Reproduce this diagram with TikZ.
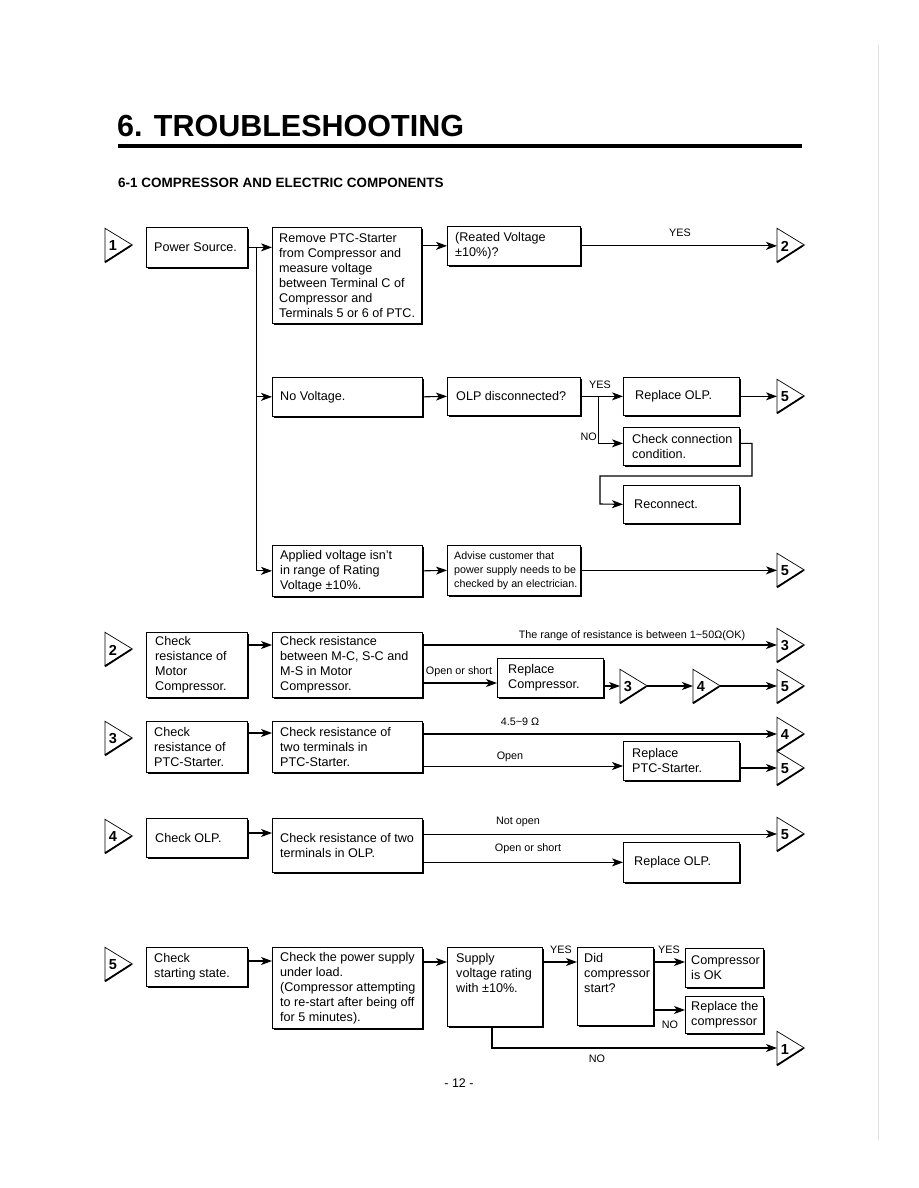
\documentclass[tikz,border=0pt]{standalone}
\usepackage{fontspec}
\setmainfont{Liberation Sans}
\usetikzlibrary{arrows.meta,shadows}
\begin{document}
\begin{tikzpicture}[x=1pt,y=-1pt,
  bx/.style 2 args={draw, fill=white, line width=0.7pt, minimum width=#1pt, minimum height=#2pt,
     inner sep=0pt, anchor=north west,
     general shadow={fill=black, shadow xshift=1.8pt, shadow yshift=-1.8pt}},
  tx/.style={anchor=west, align=left, inner sep=0pt, font=\fontsize{12.6}{15}\selectfont},
  mk/.style={anchor=west, minimum width=27pt, minimum height=33pt, inner sep=0pt},
  num/.style={inner sep=0pt, font=\bfseries\fontsize{14.5}{14.5}\selectfont},
  lb/.style={inner sep=0pt, font=\fontsize{10.8}{12}\selectfont},
  ln/.style={line width=1.1pt},
  ar/.style={ln, -{Stealth[length=11pt,width=8pt,inset=3pt]}}
]
\useasboundingbox (0,0) rectangle (918,1188);
\fill[white] (0,0) rectangle (918,1188);
\draw[gray!25, line width=0.5pt] (878,45) -- (878,1140);

% title
\node[anchor=base west, inner sep=0pt, font=\bfseries\fontsize{30.5}{30}\selectfont] (title) at (117,136) {6. TROUBLESHOOTING};
\draw[line width=4pt] (118,146) -- (802,146);
\node[anchor=base west, inner sep=0pt, font=\bfseries\fontsize{13.5}{14}\selectfont] (sub) at (118,187) {6-1 COMPRESSOR AND ELECTRIC COMPONENTS};
\node[font=\fontsize{12.5}{14}\selectfont] (pg) at (459,1083) {- 12 -};

% ---------- section 1
\node[mk] (t1a) at (105,245) {};
\node[bx={101}{40}] (ps) at (146,227) {};
\node[tx] (psT) at ([xshift=8pt]ps.west) {Power Source.};
\node[bx={149}{96}] (rem) at (272,227) {};
\node[tx] (remT) at ([xshift=7pt]rem.west) {Remove PTC-Starter\\from Compressor and\\measure voltage\\between Terminal C of\\Compressor and\\Terminals 5 or 6 of PTC.};
\node[bx={133}{39}] (rea) at (447,226) {};
\node[tx] (reaT) at ([xshift=8pt]rea.west) {(Reated Voltage\\±10\%)?};
\node[mk] (t2a) at (777,245) {};

\node[bx={150}{39}] (nov) at (272,377) {};
\node[tx] (novT) at ([xshift=8pt]nov.west) {No Voltage.};
\node[bx={133}{38}] (olp) at (447,377) {};
\node[tx] (olpT) at ([xshift=9pt]olp.west) {OLP disconnected?};
\node[bx={116}{38}] (rolp) at (623,377) {};
\node[tx] (rolpT) at ([xshift=12pt]rolp.west) {Replace OLP.};
\node[mk] (t5a) at (777,396) {};
\node[bx={116}{38}] (ccc) at (623,427) {};
\node[tx] (cccT) at ([xshift=9pt]ccc.west) {Check connection\\condition.};
\node[bx={116}{38}] (rec) at (623,485) {};
\node[tx] (recT) at ([xshift=11pt]rec.west) {Reconnect.};

\node[bx={150}{51}] (apv) at (272,545) {};
\node[tx] (apvT) at ([xshift=8pt]apv.west) {Applied voltage isn't\\in range of Rating\\Voltage ±10\%.};
\node[bx={133}{50}] (adv) at (447,545) {};
\node[tx, font=\fontsize{10.7}{14}\selectfont] (advT) at ([xshift=7pt]adv.west) {Advise customer that\\power supply needs to be\\checked by an electrician.};
\node[mk] (t5b) at (777,570) {};

\coordinate (j1) at (256,247);
\coordinate (j2) at (j1 |- nov.west);
\coordinate (j3) at (j1 |- apv.west);
\draw[ar] (ps.east) -- (ps.east -| rem.west);
\draw[ln, line width=0.8pt] (j1) -- (j3);
\draw[ar] (j2) -- (nov.west);
\draw[ar] (j3) -- (apv.west);
\draw[ar] (rem.east |- rea.west) -- (rea.west);
\draw[ar] (rea.east) -- (rea.east -| t2a.west);
\node[lb] (yes1) at (680,233) {YES};

\draw[ar] (nov.east) -- (olp.west);
\draw[ar] (olp.east) -- (rolp.west);
\coordinate (j4) at ([xshift=18pt]olp.east);
\draw[ar] (j4) |- ([yshift=3pt]ccc.west);
\node[lb] (yes2) at (600,385) {YES};
\node[lb, anchor=east] (no1) at (597,437) {NO};
\draw[ar] ([yshift=3pt]ccc.east) -| (752,476) -| (600,504) -- (rec.west);
\draw[ar] (rolp.east) -- (rolp.east -| t5a.west);

\draw[ar] (apv.east) -- (adv.west);
\draw[ar] (adv.east) -- (adv.east -| t5b.west);

% ---------- section 2
\node[mk] (t2b) at (105,649) {};
\node[bx={101}{65}] (crm) at (146,632) {};
\node[tx] (crmT) at ([xshift=9pt]crm.west) {Check\\resistance of\\Motor\\Compressor.};
\node[bx={150}{65}] (crmc) at (272,632) {};
\node[tx] (crmcT) at ([xshift=8pt]crmc.west) {Check resistance\\between M-C, S-C and\\M-S in Motor\\Compressor.};
\node[mk] (t3a) at (777,645) {};
\node[bx={106}{39}] (repc) at (497,658) {};
\node[tx] (repcT) at ([xshift=11pt]repc.west) {Replace\\Compressor.};
\node[mk] (t3b) at (620,686) {};
\node[mk] (t4b) at (693,686) {};
\node[mk] (t5c) at (777,686) {};

\draw[ar] (crm.east |- 0,645) -- (crmc.west |- 0,645);
\draw[ar] (crmc.east |- t3a.west) -- (t3a.west);
\node[lb] (lrange) at (632,636) {The range of resistance is between 1\textasciitilde 50Ω(OK)};
\draw[ar] (crmc.east |- 0,683) -- (repc.west |- 0,683);
\node[lb] (los1) at (459,672) {Open or short};
\draw[ar] (repc.east |- t3b.west) -- (t3b.west);
\draw[ar] (t3b.east) -- (t4b.west);
\draw[ar] (t4b.east) -- (t5c.west);

% ---------- section 3
\node[mk] (t3c) at (105,738) {};
\node[bx={101}{51}] (cpt) at (146,721) {};
\node[tx] (cptT) at ([xshift=8pt]cpt.west) {Check\\resistance of\\PTC-Starter.};
\node[bx={150}{51}] (cptc) at (272,721) {};
\node[tx] (cptcT) at ([xshift=8pt]cptc.west) {Check resistance of\\two terminals in\\PTC-Starter.};
\node[mk] (t4c) at (777,734) {};
\node[bx={116}{39}] (rptc) at (623,741) {};
\node[tx] (rptcT) at ([xshift=9pt]rptc.west) {Replace\\PTC-Starter.};
\node[mk] (t5d) at (777,768) {};

\draw[ar] (cpt.east |- 0,733) -- (cptc.west |- 0,733);
\draw[ar] (cptc.east |- t4c.west) -- (t4c.west);
\node[lb] (lohm) at (520,722) {4.5\textasciitilde 9 Ω};
\draw[ar, line width=0.7pt] (cptc.east |- 0,766) -- (rptc.west |- 0,766);
\node[lb] (lopen) at (510,757) {Open};
\draw[ar] (rptc.east |- t5d.west) -- (t5d.west);

% ---------- section 4
\node[mk] (t4d) at (105,836) {};
\node[bx={101}{39}] (colp) at (146,818) {};
\node[tx] (colpT) at ([xshift=9pt]colp.west) {Check OLP.};
\node[bx={150}{54}] (crolp) at (272,818) {};
\node[tx] (crolpT) at ([xshift=8pt]crolp.west) {Check resistance of two\\terminals in OLP.};
\node[mk] (t5e) at (777,834) {};
\node[bx={116}{40}] (rolp2) at (623,842) {};
\node[tx] (rolp2T) at ([xshift=11pt]rolp2.west) {Replace OLP.};

\draw[ar] (colp.east |- 0,833) -- (crolp.west |- 0,833);
\draw[ar, line width=0.7pt] (crolp.east |- t5e.west) -- (t5e.west);
\node[lb] (lnot) at (518,822) {Not open};
\draw[ar, line width=0.7pt] (crolp.east |- rolp2.west) -- (rolp2.west);
\node[lb] (los2) at (528,849) {Open or short};

% ---------- section 5
\node[mk] (t5f) at (105,964) {};
\node[bx={101}{39}] (css) at (146,947) {};
\node[tx] (cssT) at ([xshift=8pt]css.west) {Check\\starting state.};
\node[bx={150}{81}] (cps) at (272,947) {};
\node[tx] (cpsT) at ([xshift=8pt]cps.west) {Check the power supply\\under load.\\(Compressor attempting\\to re-start after being off\\for 5 minutes).};
\node[bx={95}{79}] (sup) at (447,947) {};
\node[tx, anchor=north west] (supT) at ([xshift=9pt,yshift=-6pt]sup.north west) {Supply\\voltage rating\\with ±10\%.};
\node[bx={76}{78}] (did) at (577,947) {};
\node[tx, anchor=north west] (didT) at ([xshift=7pt,yshift=-6pt]did.north west) {Did\\compressor\\start?};
\node[bx={78}{39}] (cok) at (685,948) {};
\node[tx] (cokT) at ([xshift=6pt]cok.west) {Compressor\\is OK};
\node[bx={78}{37}] (rtc) at (685,996) {};
\node[tx] (rtcT) at ([xshift=6pt]rtc.west) {Replace the\\compressor};
\node[mk] (t1e) at (777,1048) {};

\draw[ar] (css.east |- 0,961) -- (cps.west |- 0,961);
\draw[ar] (cps.east |- 0,962) -- (sup.west |- 0,962);
\draw[ar] (sup.east |- 0,962) -- (did.west |- 0,962);
\node[lb] (yes3) at (561,950) {YES};
\draw[ar] (did.east |- 0,962) -- (cok.west |- 0,962);
\node[lb] (yes4) at (669,950) {YES};
\draw[ar] (did.east |- 0,1010) -- (rtc.west |- 0,1010);
\node[lb] (no2) at (670,1025) {NO};
\draw[ar] (sup.south -| 492,0) |- (t1e.west);
\node[lb] (no3) at (597,1059) {NO};

% ---------- triangle markers
\foreach \n/\k in {t1a/1,t2a/2,t5a/5,t5b/5,t2b/2,t3a/3,t3b/3,t4b/4,t5c/5,t3c/3,t4c/4,t5d/5,t4d/4,t5e/5,t5f/5,t1e/1}{
  \draw[line width=0.7pt, line join=miter] (\n.north west) -- (\n.east) -- (\n.south west) -- cycle;
  \draw[line width=1.8pt] ([yshift=-0.6pt]\n.south west) -- ([yshift=-0.6pt,xshift=-1.5pt]\n.east);
  \node[num] (\n n) at ([xshift=8pt,yshift=-1pt]\n.west) {\k};
}
\end{tikzpicture}
\end{document}
